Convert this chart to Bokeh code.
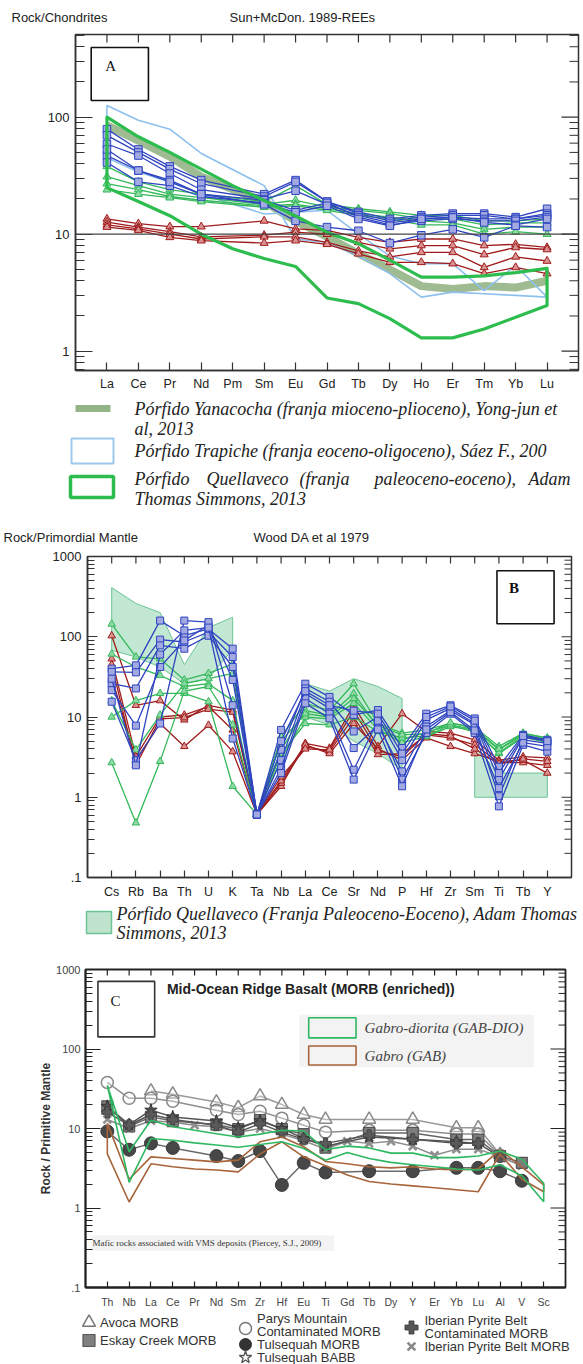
import math
from bokeh.plotting import figure
from bokeh.models import Range1d, FixedTicker, Span, CustomJSTickFormatter
from bokeh.core.properties import value
from bokeh.embed import file_html
from bokeh.resources import INLINE

# ======================= DATA : panel A (REE / chondrite) =======================
ree_labels = ["La", "Ce", "Pr", "Nd", "Pm", "Sm", "Eu", "Gd", "Tb", "Dy", "Ho", "Er", "Tm", "Yb", "Lu"]
ree_measured = ["La", "Ce", "Pr", "Nd", "Sm", "Eu", "Gd", "Tb", "Dy", "Ho", "Er", "Tm", "Yb", "Lu"]

a_blue = [
    [79, 53, 38, 29, 22, 29, 19, 15.5, 13.5, 14.5, 15, 15, 14, 16.5],
    [70, 50, 36, 27, 21, 28, 19, 15, 13, 14, 14.5, 14.5, 13.5, 15],
    [59, 47, 33, 24, 20, 23.5, 18, 14.5, 12.5, 13.5, 14, 13.5, 13.5, 14.5],
    [47, 35, 29, 22, 19.5, 16, 18.5, 14, 12, 13, 13.5, 13, 13, 14],
    [41, 28, 26, 21, 18.5, 15.4, 17.5, 13.5, 11.8, 13.5, 13.9, 12.6, 12, 13.5],
    [53, 35, 28, 22, 18, 13, 11.5, 10.7, 8.4, 9.8, 11, 9.4, 11.8, 11.5],
]
a_green = [
    [38, 28, 24, 22, 19, 26, 18, 16.5, 15.5, 14.5, 14.5, 13, 13, 13.5],
    [31, 26, 22, 20.5, 18, 19.5, 17, 16, 15, 13.5, 13.5, 12, 12.5, 12.5],
    [27, 24, 21, 19.5, 17.5, 18, 16.5, 15, 14, 13, 12.5, 11, 11.5, 11.5],
    [24, 22, 20.5, 19, 17, 17.5, 16, 14.5, 13.5, 12, 12, 10, 10.5, 10],
]
a_red = [
    [13.5, 12.3, 11.6, 11.6, 13.0, 11.1, 10.8, 9.4, 8.5, 9.1, 9.1, 8.0, 8.2, 7.7],
    [12.7, 11.5, 10.5, 9.5, 9.8, 10.4, 10.0, 8.5, 7.5, 8.0, 8.0, 6.7, 7.7, 7.4],
    [12.0, 11.1, 10.0, 9.1, 9.5, 9.5, 8.5, 7.2, 6.4, 7.0, 7.0, 5.2, 6.4, 5.9],
    [11.5, 10.8, 9.4, 8.8, 8.4, 8.8, 8.2, 6.8, 5.75, 5.75, 5.6, 4.6, 5.2, 4.6],
]
a_yanacocha = [85, 63, 46, 31, 19, 13, 9.5, 6.8, 5.0, 3.6, 3.4, 3.6, 3.5, 4.0]
a_trapiche_1 = [126, 94, 79, 49, 26, 9.1, 8.5, 6.5, 4.6, 2.9, 3.2, 3.1, 3.0, 2.9]
a_trapiche_2 = [45, 34, 28, 22, 14.9, 15.4, 16, 10, 6.5, 5.6, 5.6, 3.3, 5.4, 2.9]
a_quell_upper = [100, 68, 50, 36, 26, 19.4, 14.3, 10.4, 8.3, 6.0, 4.3, 4.3, 4.4, 4.7, 5.1]
a_quell_lower = [25, 19, 14.4, 10, 7.5, 6.2, 5.3, 2.85, 2.55, 1.9, 1.3, 1.3, 1.55, 1.95, 2.46]

# ======================= DATA : panel B (spider / primordial mantle) =======================
spider_labels = ["Cs", "Rb", "Ba", "Th", "U", "K", "Ta", "Nb", "La", "Ce", "Sr", "Nd", "P", "Hf", "Zr", "Sm", "Ti", "Tb", "Y"]
b_blue = [
    [40, 44, 159, 103, 125, 71, 0.61, 6.9, 26, 17.8, 10.6, 12.2, 4.1, 11, 14, 9.6, 2.4, 6.0, 5.2],
    [36.5, 36, 92, 86, 114, 56, 0.61, 3.9, 22.7, 15.5, 6.6, 10, 2.9, 9.2, 12.8, 8.3, 1.66, 5.6, 5.0],
    [26, 22.7, 78, 71, 103, 42, 0.61, 2.9, 19.6, 12.8, 4.1, 7.9, 2.1, 7.6, 12, 8, 1.03, 5.2, 4.7],
    [21.6, 7.8, 42, 90, 140, 29, 0.61, 2.3, 17, 11, 2.2, 9, 1.66, 6.3, 11, 6.3, 0.77, 4.5, 3.7],
    [15.5, 2.9, 8.3, 159, 152, 14, 0.61, 2.0, 14.8, 9.6, 1.66, 7.0, 1.37, 7, 11.5, 6.8, 1.3, 4.8, 4.3],
    [30, 2.5, 60, 120, 130, 5.4, 0.61, 5.0, 21, 14, 12, 11, 3.5, 10, 13.5, 9, 2.0, 5.8, 5.0],
]
b_green = [
    [144, 56, 53, 29, 35, 46, 0.61, 5.7, 14.8, 12, 26, 8.3, 6.3, 6.9, 8.3, 7.5, 4.3, 6.3, 5.5],
    [61, 42, 33, 24, 26, 16, 0.61, 3.9, 12, 10.5, 19.6, 7.5, 5.2, 6.5, 7.9, 7, 3.9, 6, 5.2],
    [10, 16, 19.7, 19.7, 15.5, 1.37, 0.61, 3.0, 10, 9.5, 14.8, 7, 4.8, 5.7, 7.6, 6.8, 3.5, 5.6, 4.8],
    [2.7, 0.48, 2.8, 21, 24, 8, 0.61, 3.5, 8.3, 8, 10, 6.6, 5.5, 5.8, 8, 6.5, 3.6, 5.8, 5],
    [16, 3.9, 10.6, 26, 30, 35, 0.61, 5, 11, 10, 17, 7.8, 6, 6.2, 8.5, 7.2, 4, 6.2, 5.4],
]
b_red = [
    [103, 14, 16, 9.2, 14, 12.2, 0.61, 1.37, 4.7, 4.1, 14, 4.3, 11, 6.6, 6.3, 5.2, 2.9, 3.2, 3.1],
    [53, 3.2, 10, 10.6, 13.5, 6.9, 0.61, 1.5, 4.3, 3.7, 10, 3.4, 3.5, 6, 5.5, 4.5, 2.7, 2.7, 2.5],
    [31.6, 2.9, 8.3, 4.3, 7.9, 3.7, 0.61, 1.6, 4.5, 3.5, 8.3, 4.0, 2.9, 5.5, 4.3, 3.5, 2.8, 2.9, 2.0],
    [45, 2.5, 9.5, 9.8, 12.5, 11.5, 0.61, 1.8, 4.0, 3.9, 12, 3.8, 3.2, 6.2, 5.8, 4, 2.6, 3.0, 2.8],
]
b_env1_el = ["Cs", "Rb", "Ba", "Th", "U", "K"]
b_env1_upper = [410, 260, 200, 45, 130, 175]
b_env1_lower = [68, 56, 42, 26, 30, 70]
b_env2_el = ["La", "Ce", "Sr", "Nd", "P"]
b_env2_upper = [26, 21, 30, 24, 17]
b_env2_lower = [10, 8, 5, 3.5, 2.2]
b_env3_el = ["Sm", "Ti", "Tb", "Y"]
b_env3_upper = [4.3, 2.0, 2.0, 2.0]
b_env3_lower = [1.0, 1.0, 1.0, 1.0]

# ======================= DATA : panel C (MORB / primitive mantle) =======================
morb_labels = ["Th", "Nb", "La", "Ce", "Pr", "Nd", "Sm", "Zr", "Hf", "Eu", "Ti", "Gd", "Tb", "Dy", "Y", "Er", "Yb", "Lu", "Al", "V", "Sc"]
avoca_el = ["La", "Ce", "Nd", "Sm", "Zr", "Hf", "Eu", "Ti", "Tb", "Y", "Yb", "Lu", "Al"]
avoca_val = [29.6, 27, 21.5, 18.3, 25.6, 20, 15, 13, 13, 13, 10.2, 10.2, 4.7]
parys_el = ["Th", "Nb", "La", "Ce", "Nd", "Sm", "Zr", "Hf", "Eu", "Ti", "Tb", "Y", "Yb", "Lu", "Al"]
parys_val = [38, 24, 24, 22, 17, 15, 16.5, 13.5, 11, 9, 9.5, 9.5, 8.5, 8.5, 4.6]
eskay_el = ["Th", "Nb", "La", "Ce", "Nd", "Sm", "Zr", "Hf", "Eu", "Ti", "Tb", "Y", "Yb", "Lu", "Al", "V"]
eskay_val = [19, 10.6, 14, 12.4, 11.2, 9.8, 12.8, 9.8, 8.5, 5.75, 8.8, 8.8, 7.25, 7.25, 4.5, 3.7]
tulsmorb_el = ["Th", "Nb", "La", "Ce", "Nd", "Sm", "Zr", "Hf", "Eu", "Ti", "Tb", "Y", "Yb", "Lu", "Al", "V"]
tulsmorb_val = [9.2, 5.4, 6.5, 5.7, 4.5, 3.9, 5.2, 1.95, 3.7, 2.8, 2.9, 2.9, 3.2, 3.2, 2.9, 2.2]
tulsbabb_el = ["Th", "Nb", "La", "Ce", "Nd", "Sm", "Zr", "Hf", "Eu", "Ti", "Tb", "Y", "Yb", "Lu"]
tulsbabb_val = [19, 11.2, 17, 14, 12.4, 10.2, 12.5, 10, 7.5, 6.0, 7.8, 7.3, 6.8, 6.5]
ipbcont_el = ["Th", "Nb", "La", "Ce", "Nd", "Sm", "Zr", "Hf", "Eu", "Ti", "Tb", "Y", "Yb", "Lu", "Al"]
ipbcont_val = [16, 11, 15, 13, 11, 9, 11.5, 9, 7.3, 6.5, 8.2, 7.3, 6.5, 6.5, 4.4]
ipbmorb_el = ["Th", "Nb", "La", "Ce", "Pr", "Nd", "Sm", "Zr", "Hf", "Eu", "Ti", "Gd", "Tb", "Dy", "Y", "Er", "Yb", "Lu", "Al", "V"]
ipbmorb_val = [13, 10, 12.5, 12, 11, 10.5, 9, 10, 8.5, 7, 5.5, 6.9, 6.5, 6.9, 6, 4.6, 5.5, 5.5, 4.4, 3.4]
gabdio_upper = [35, 5.1, 12.7, 10.5, 9.5, 8.6, 7.8, 8.5, 9.5, 9.3, 5.4, 6.0, 5.7, 4.9, 4.9, 4.3, 4.3, 4.5, 5.2, 4.1, 2.05]
gabdio_lower = [35, 2.1, 7.5, 7.1, 6.6, 6.2, 5.8, 6.3, 6.8, 5.6, 4.0, 5.0, 4.2, 3.75, 3.5, 3.3, 3.1, 3.0, 3.5, 2.54, 1.2]
gab_upper = [11.6, 2.3, 4.4, 4.2, 4.0, 3.8, 4.0, 6.8, 7.8, 5.9, 3.85, 3.6, 3.3, 3.2, 3.3, 3.1, 3.0, 3.1, 5.4, 3.3, 1.95]
gab_lower = [4.8, 1.19, 3.6, 3.3, 3.1, 3.0, 2.85, 4.8, 6.8, 4.4, 3.4, 2.6, 2.15, 2.0, 1.9, 1.8, 1.7, 1.6, 4.8, 2.3, 1.6]

# ======================= helpers =======================
W = 583
SANS = value("Liberation Sans")
SERIF = value("Liberation Serif")
FMT_CODE = "return tick >= 1 ? Math.round(tick).toString() : '.' + Math.round(tick*10).toString();"


def pixel_fig(h, top, bottom):
    p = figure(width=W, height=h, x_range=Range1d(0, W), y_range=Range1d(bottom, top),
               x_axis_location=None, y_axis_location=None, output_backend="svg",
               toolbar_location=None, min_border=0, outline_line_color=None)
    p.grid.visible = False
    return p


def style_axis(ax, maj_in, min_in, color, width):
    ax.axis_line_color = color
    ax.axis_line_width = width
    ax.major_tick_line_color = color
    ax.minor_tick_line_color = color
    ax.major_tick_line_width = 1.2
    ax.minor_tick_line_width = 1.0
    ax.major_tick_in = maj_in
    ax.major_tick_out = 0
    ax.minor_tick_in = min_in
    ax.minor_tick_out = 0


def log_fig(h, labels, ylo, yhi, bl, br, bt, bb, ymaj_in, ymin_in, x_in, xfont, yfont,
            lab_color, frame_color, frame_w, xstand, ystand):
    n = len(labels)
    p = figure(width=W, height=h, x_range=Range1d(-1, n), y_range=Range1d(ylo, yhi),
               y_axis_type="log", output_backend="svg", toolbar_location=None,
               min_border_left=bl, min_border_right=br, min_border_top=bt, min_border_bottom=bb)
    p.grid.visible = False
    p.outline_line_color = frame_color
    p.outline_line_width = frame_w
    ymaj = [10.0 ** k for k in range(-1, 4) if ylo <= 10.0 ** k <= yhi]
    ymin = [m * 10.0 ** k for k in range(-1, 3) for m in range(2, 10) if ylo <= m * 10.0 ** k <= yhi]
    xa = p.xaxis[0]
    xa.ticker = FixedTicker(ticks=list(range(n)))
    xa.major_label_overrides = {i: s for i, s in enumerate(labels)}
    xa.major_label_text_font = "Liberation Sans"
    xa.major_label_text_font_size = xfont
    xa.major_label_text_color = lab_color
    xa.major_label_standoff = xstand
    style_axis(xa, x_in, 0, frame_color, frame_w)
    ya = p.yaxis[0]
    ya.ticker = FixedTicker(ticks=ymaj, minor_ticks=ymin)
    ya.formatter = CustomJSTickFormatter(code=FMT_CODE)
    ya.major_label_text_font = "Liberation Sans"
    ya.major_label_text_font_size = yfont
    ya.major_label_text_color = lab_color
    ya.major_label_standoff = ystand
    style_axis(ya, ymaj_in, ymin_in, frame_color, frame_w)
    # mirrored inward ticks on the top and right edges of the frame
    fw = W - bl - br
    fh = h - bt - bb
    dec_px = fh / math.log10(yhi / ylo)
    xpp = (n + 1) / fw
    xt = list(range(n))
    p.segment(x0=xt, y0=[yhi] * n, x1=xt, y1=[yhi / 10 ** (x_in / dec_px)] * n,
              line_color=frame_color, line_width=1.2)
    p.segment(x0=[n] * len(ymaj), y0=ymaj, x1=[n - ymaj_in * xpp] * len(ymaj), y1=ymaj,
              line_color=frame_color, line_width=1.2)
    p.segment(x0=[n] * len(ymin), y0=ymin, x1=[n - ymin_in * xpp] * len(ymin), y1=ymin,
              line_color=frame_color, line_width=1.0)
    return p


# ======================= F1 : header A (page y 0-32) =======================
f1 = pixel_fig(32, 0, 32)
f1.text(x=[11, 229], y=[17, 17], text=["Rock/Chondrites", "Sun+McDon. 1989-REEs"],
        text_font=SANS, text_font_size="13px", text_baseline="middle", text_color="#222222")

# ======================= F2 : panel A (page y 32-396) =======================
pa = log_fig(364, ree_labels, 0.684, 509, 75, 5, 2, 26, 17, 9, 8, "12.5px", "13px",
             "#222222", "#333333", 1.5, 6, 6)
pa.add_layout(Span(location=10, dimension="width", line_color="#444444", line_width=1.3))
xa_idx = [ree_labels.index(e) for e in ree_measured]
xq = list(range(len(ree_labels)))

pa.line(xa_idx, a_yanacocha, line_color="#93b486", line_width=8, line_alpha=0.9)
pa.patch(xa_idx + xa_idx[::-1], a_trapiche_1 + a_trapiche_2[::-1],
         fill_color=None, line_color="#8ec0ee", line_width=1.6)
for vals in a_red:
    pa.line(xa_idx, vals, line_color="#a01c1c", line_width=1.3)
    pa.scatter(xa_idx, vals, marker="triangle", size=8, fill_color="#d99292",
               line_color="#a01c1c", line_width=1)
for vals in a_green:
    pa.line(xa_idx, vals, line_color="#34b85a", line_width=1.3)
    pa.scatter(xa_idx, vals, marker="triangle", size=8, fill_color="#8fd9a6",
               line_color="#34b85a", line_width=1)
for vals in a_blue:
    pa.line(xa_idx, vals, line_color="#2f44c0", line_width=1.3)
    pa.scatter(xa_idx, vals, marker="square", size=7.5, fill_color="#a3aae2",
               line_color="#2f44c0", line_width=1)
pa.patch(xq + xq[::-1], a_quell_upper + a_quell_lower[::-1],
         fill_color=None, line_color="#2dbd4e", line_width=3.2, line_join="round")
pa.quad(left=[-0.5], right=[1.32], bottom=[139], top=[394], fill_color="white",
        line_color="#111111", line_width=1.6)
pa.text(x=[-0.05], y=[275], text=["A"], text_font=SERIF, text_font_size="15px",
        text_baseline="middle", text_color="#111111")

# ======================= F3 : legend A + header B (page y 396-550) =======================
f3 = pixel_fig(154, 396, 550)
f3.line([75, 110], [408, 408], line_color="#93b486", line_width=7)
f3.quad(left=[71], right=[113], top=[463], bottom=[438], fill_color=None,
        line_color="#9cc8ee", line_width=2)
f3.quad(left=[70], right=[113], top=[497], bottom=[476], fill_color=None,
        line_color="#2dbd4e", line_width=3.5)
f3.text(x=[134, 134, 134, 134],
        y=[408, 428, 450, 498],
        text=["Pórfido Yanacocha (franja mioceno-plioceno), Yong-jun et",
              "al, 2013",
              "Pórfido Trapiche (franja eoceno-oligoceno), Sáez F., 200",
              "Thomas Simmons, 2013"],
        text_font=SERIF, text_font_style="italic", text_font_size="18px",
        text_baseline="middle", text_color="#222222")
f3.text(x=[134, 206, 299, 374, 528], y=[478] * 5,
        text=["Pórfido", "Quellaveco", "(franja", "paleoceno-eoceno),", "Adam"],
        text_font=SERIF, text_font_style="italic", text_font_size="18px",
        text_baseline="middle", text_color="#222222")
f3.text(x=[3, 253], y=[537, 537], text=["Rock/Primordial Mantle", "Wood DA et al 1979"],
        text_font=SANS, text_font_size="13px", text_baseline="middle", text_color="#222222")

# ======================= F4 : panel B (page y 550-902) =======================
pb = log_fig(352, spider_labels, 0.1, 1000, 87, 12, 6, 25, 10, 7, 7, "12.5px", "13px",
             "#222222", "#333333", 1.5, 7, 6)
xb = list(range(len(spider_labels)))
for els, up, lo in [(b_env1_el, b_env1_upper, b_env1_lower),
                    (b_env2_el, b_env2_upper, b_env2_lower),
                    (b_env3_el, b_env3_upper, b_env3_lower)]:
    ex = [spider_labels.index(e) for e in els]
    pb.patch(ex + ex[::-1], up + lo[::-1], fill_color="#8fd4ad", fill_alpha=0.55,
             line_color="#6cc494", line_width=1)
for vals in b_red:
    pb.line(xb, vals, line_color="#a01c1c", line_width=1.3)
    pb.scatter(xb, vals, marker="triangle", size=7.5, fill_color="#d99292",
               line_color="#a01c1c", line_width=1)
for vals in b_green:
    pb.line(xb, vals, line_color="#34b85a", line_width=1.3)
    pb.scatter(xb, vals, marker="triangle", size=7.5, fill_color="#8fd9a6",
               line_color="#34b85a", line_width=1)
for vals in b_blue:
    pb.line(xb, vals, line_color="#2f44c0", line_width=1.3)
    pb.scatter(xb, vals, marker="square", size=7, fill_color="#a3aae2",
               line_color="#2f44c0", line_width=1)
pb.quad(left=[15.92], right=[18.28], bottom=[145], top=[663], fill_color="white",
        line_color="#111111", line_width=1.6)
pb.text(x=[16.42], y=[400], text=["B"], text_font=SERIF, text_font_size="15px",
        text_font_style="bold", text_baseline="middle", text_color="#111111")

# ======================= F5 : legend B (page y 902-963) =======================
f5 = pixel_fig(61, 902, 963)
f5.quad(left=[86], right=[111], top=[933], bottom=[911], fill_color="#bfe3cd",
        line_color="#6cc494", line_width=1.5)
f5.text(x=[116, 116], y=[913, 932],
        text=["Pórfido Quellaveco (Franja Paleoceno-Eoceno), Adam Thomas", "Simmons, 2013"],
        text_font=SERIF, text_font_style="italic", text_font_size="18px",
        text_baseline="middle", text_color="#222222")

# ======================= F6 : panel C (page y 963-1310) =======================
pc = log_fig(347, morb_labels, 0.1, 1000, 85, 18, 6, 22, 15, 7, 6, "10.5px", "11px",
             "#444444", "#222222", 1.8, 8, 5)
pc.yaxis[0].axis_label = "Rock / Primitive Mantle"
pc.yaxis[0].axis_label_text_font = "Liberation Sans"
pc.yaxis[0].axis_label_text_font_style = "bold"
pc.yaxis[0].axis_label_text_font_size = "12px"
pc.yaxis[0].axis_label_text_color = "#333333"
pc.yaxis[0].axis_label_standoff = 0


def mx(els):
    return [morb_labels.index(e) for e in els]


pc.quad(left=[8.8], right=[19.55], bottom=[59], top=[270], fill_color="#f3f3f3",
        line_color=None)
pc.quad(left=[-0.72], right=[10.4], bottom=[0.29], top=[0.45], fill_color="#f3f3f3",
        line_color=None)

pc.line(mx(avoca_el), avoca_val, line_color="#999999", line_width=1.5)
pc.scatter(mx(avoca_el), avoca_val, marker="triangle", size=13, fill_color="white",
           fill_alpha=0.3, line_color="#8a8a8a", line_width=1.5)
pc.line(mx(parys_el), parys_val, line_color="#8f8f8f", line_width=1.5)
pc.scatter(mx(parys_el), parys_val, marker="circle", size=12, fill_color="white",
           fill_alpha=0.3, line_color="#888888", line_width=1.5)
pc.line(mx(ipbmorb_el), ipbmorb_val, line_color="#8a8a8a", line_width=1.5)
pc.scatter(mx(ipbmorb_el), ipbmorb_val, marker="x", size=11, line_color="#8f8f8f", line_width=2.6)
pc.line(mx(eskay_el), eskay_val, line_color="#666666", line_width=1.5)
pc.scatter(mx(eskay_el), eskay_val, marker="square", size=11, fill_color="#7d7d7d",
           line_color="#555555", line_width=1.2)
pc.line(mx(tulsbabb_el), tulsbabb_val, line_color="#555555", line_width=1.5)
pc.scatter(mx(tulsbabb_el), tulsbabb_val, marker="star", size=13, fill_color="#555555",
           line_color="#333333", line_width=1)
pc.line(mx(ipbcont_el), ipbcont_val, line_color="#555555", line_width=1.5)
pc.scatter(mx(ipbcont_el), ipbcont_val, marker="plus", size=11, fill_color="#5a5a5a",
           line_color="#444444", line_width=1)
pc.line(mx(tulsmorb_el), tulsmorb_val, line_color="#6a6a6a", line_width=1.5)
pc.scatter(mx(tulsmorb_el), tulsmorb_val, marker="circle", size=13, fill_color="#474747",
           line_color="#3a3a3a", line_width=1)

xc = list(range(len(morb_labels)))
pc.patch(xc + xc[::-1], gab_upper + gab_lower[::-1], fill_color=None,
         line_color="#a8643a", line_width=1.6)
pc.patch(xc + xc[::-1], gabdio_upper + gabdio_lower[::-1], fill_color=None,
         line_color="#2fb862", line_width=1.6)

pc.quad(left=[-0.43], right=[2.17], bottom=[142], top=[708], fill_color="white",
        line_color="#333333", line_width=1.6)
pc.text(x=[0.15], y=[400], text=["C"], text_font=SERIF, text_font_size="15px",
        text_baseline="middle", text_color="#222222")
pc.text(x=[2.73], y=[575], text=["Mid-Ocean Ridge Basalt (MORB (enriched))"],
        text_font=SANS, text_font_style="bold", text_font_size="14px",
        text_baseline="middle", text_color="#222222")
pc.quad(left=[9.23], right=[11.4], bottom=[138], top=[247], fill_color=None,
        line_color="#2fb862", line_width=1.6)
pc.quad(left=[9.23], right=[11.4], bottom=[63], top=[109], fill_color=None,
        line_color="#a8643a", line_width=1.6)
pc.text(x=[11.79, 11.79], y=[184, 81], text=["Gabro-diorita (GAB-DIO)", "Gabro (GAB)"],
        text_font=SERIF, text_font_style="italic", text_font_size="15px",
        text_baseline="middle", text_color="#444444")
pc.text(x=[-0.68], y=[0.36], text=["Mafic rocks associated with VMS deposits (Piercey, S.J., 2009)"],
        text_font=SERIF, text_font_size="9px", text_baseline="middle", text_color="#333333")

# ======================= F7 : legend C (page y 1310-1364) =======================
f7 = pixel_fig(54, 1310, 1364)
f7.scatter([88.5], [1322], marker="triangle", size=13, fill_color=None, line_color="#777777", line_width=1.5)
f7.scatter([88.5], [1340], marker="square", size=12, fill_color="#808080", line_color="#555555", line_width=1.2)
f7.scatter([245], [1328], marker="circle", size=12, fill_color=None, line_color="#777777", line_width=1.5)
f7.scatter([245], [1344], marker="circle", size=12, fill_color="#333333", line_color="#333333")
f7.scatter([245], [1357], marker="star", size=13, fill_color=None, line_color="#555555", line_width=1.3)
f7.scatter([411], [1327], marker="plus", size=13, fill_color="#555555", line_color="#444444")
f7.scatter([411], [1346], marker="x", size=11, line_color="#888888", line_width=2.6)
f7.text(x=[99.6, 99.6, 256.5, 256.5, 256.5, 256.5, 424, 424, 424],
        y=[1322, 1340, 1318, 1331, 1344, 1357, 1320, 1333, 1346],
        text=["Avoca MORB", "Eskay Creek MORB", "Parys Mountain", "Contaminated MORB",
              "Tulsequah MORB", "Tulsequah BABB", "Iberian Pyrite Belt", "Contaminated MORB",
              "Iberian Pyrite Belt MORB"],
        text_font=SANS, text_font_size="13px", text_baseline="middle", text_color="#333333")

open("out.html", "w").write(file_html([f1, pa, f3, pb, f5, pc, f7], INLINE))
